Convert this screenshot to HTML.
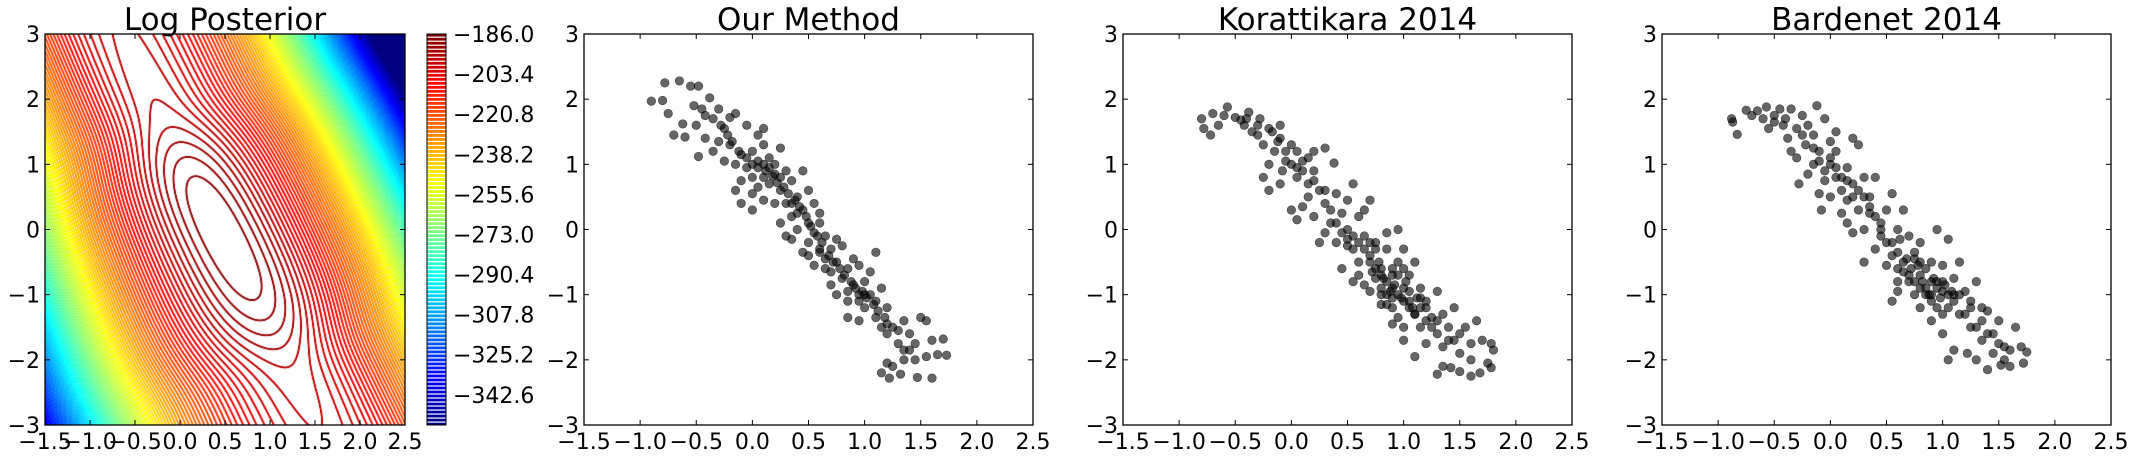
<!DOCTYPE html>
<html><head><meta charset="utf-8">
<style>
html,body{margin:0;padding:0;background:#fff;}
#wrap{position:relative;width:2135px;height:459px;overflow:hidden;background:#fff;}
#contour{position:absolute;left:45px;top:34px;}
svg{position:absolute;left:0;top:0;}
text{font-family:"DejaVu Sans","Liberation Sans",sans-serif;fill:#000;}
</style></head>
<body>
<div id="wrap">
<canvas id="contour" width="360" height="391"></canvas>
<svg id="fig" width="2135" height="459"></svg>
</div>
<script>
// ---- data ----
const xTicks = [-1.5,-1.0,-0.5,0.0,0.5,1.0,1.5,2.0,2.5];
const yTicks = [-3,-2,-1,0,1,2,3];
const cbTicks = [-186.0,-203.4,-220.8,-238.2,-255.6,-273.0,-290.4,-307.8,-325.2,-342.6];
const levelMax = -186.0;
const levelMin = -355.7;
const levelStep = 1.74;
const titles = ["Log Posterior","Our Method","Korattikara 2014","Bardenet 2014"];

const ourPoints = [[-0.9,1.97],[-0.78,2.25],[-0.65,2.28],[-0.55,2.2],[-0.48,2.2],[-0.75,1.78],[-0.8,1.98],[-0.7,1.45],[-0.6,1.42],[-0.62,1.62],[-0.52,1.9],[-0.45,1.85],[-0.38,2.02],[-0.5,1.6],[-0.42,1.4],[-0.48,1.12],[-0.3,1.85],[-0.25,1.55],[-0.2,1.72],[-0.15,1.78],[-0.3,1.35],[-0.2,1.3],[-0.1,1.15],[-0.35,1.2],[-0.25,1.05],[-0.15,1.0],[-0.05,1.1],[0.0,1.2],[0.05,1.45],[0.1,1.55],[-0.05,1.6],[0.1,1.3],[0.15,1.1],[0.2,1.0],[0.25,1.25],[0.3,0.9],[0.05,0.95],[0.0,0.8],[-0.1,0.75],[0.1,0.8],[0.15,0.7],[0.2,0.85],[0.25,0.6],[0.35,0.75],[0.4,0.5],[0.45,0.9],[0.3,0.4],[0.35,0.2],[0.2,0.4],[0.1,0.45],[0.0,0.55],[-0.15,0.6],[0.45,0.3],[0.5,0.1],[0.55,0.4],[0.4,0.0],[0.35,-0.15],[0.5,-0.2],[0.55,-0.05],[0.6,0.1],[0.65,-0.1],[0.6,-0.35],[0.7,-0.3],[0.75,-0.5],[0.65,-0.6],[0.55,-0.55],[0.5,-0.4],[0.45,-0.35],[0.8,-0.25],[0.85,-0.6],[0.9,-0.45],[0.8,-0.75],[0.7,-0.85],[0.75,-1.0],[0.9,-0.85],[0.95,-1.0],[1.0,-0.8],[1.05,-1.0],[0.85,-1.1],[1.0,-1.2],[1.1,-1.1],[1.15,-0.9],[1.2,-1.2],[0.95,-1.4],[1.1,-1.35],[1.05,-0.65],[1.1,-0.35],[1.2,-1.45],[1.25,-1.5],[1.3,-1.55],[1.35,-1.4],[1.4,-1.6],[1.3,-1.75],[1.45,-1.75],[1.5,-1.35],[1.55,-1.4],[1.6,-1.7],[1.7,-1.68],[1.73,-1.93],[1.65,-1.92],[1.55,-1.95],[1.45,-2.0],[1.35,-2.0],[1.25,-2.1],[1.2,-2.05],[1.15,-2.2],[1.22,-2.28],[1.32,-2.22],[1.47,-2.27],[1.6,-2.28],[1.4,-1.85],[1.35,-1.85],[1.15,-1.5],[1.2,-1.6],[0.75,-0.15],[0.3,-0.1],[0.25,0.1],[0.0,0.3],[-0.1,0.4],[0.5,0.6],[0.6,0.25],[0.85,-1.35],[0.95,-0.55],[0.7,-0.65],
[0.0,1.0],[0.05,1.05],[0.1,1.0],[-0.05,0.95],[0.12,0.9],[0.18,0.82],[0.22,0.72],[0.28,0.65],[0.32,0.55],[0.38,0.45],[0.42,0.35],[0.48,0.2],[0.52,0.05],[0.58,-0.1],[0.62,-0.2],[0.68,-0.4],[0.72,-0.5],[0.78,-0.6],[0.82,-0.7],[0.88,-0.8],[0.92,-0.9],[0.98,-0.95],[1.02,-1.05],[1.08,-1.15],[1.12,-1.25],[1.18,-1.35],[-0.12,1.2],[-0.18,1.35],[-0.22,1.45],[-0.28,1.6],[-0.35,1.7],[-0.42,1.75],[0.15,0.95],[0.25,0.8],[0.35,0.4],[0.6,-0.3],[0.85,-0.95],[1.0,-1.0],[0.95,-1.1],[0.05,0.65],[0.4,0.25],[0.65,-0.45]];

const korPoints = [[-0.8,1.7],[-0.78,1.55],[-0.72,1.45],[-0.7,1.78],[-0.65,1.6],[-0.6,1.75],[-0.57,1.88],[-0.5,1.72],[-0.45,1.68],[-0.42,1.6],[-0.38,1.8],[-0.35,1.5],[-0.3,1.45],[-0.28,1.7],[-0.25,1.3],[-0.2,1.55],[-0.17,1.5],[-0.15,1.2],[-0.12,1.35],[-0.1,1.6],[-0.05,1.05],[-0.08,0.9],[0.0,1.0],[0.0,1.3],[0.05,0.8],[0.05,1.2],[0.1,0.9],[-0.2,1.0],[-0.25,0.8],[-0.2,0.6],[-0.1,0.7],[0.15,1.1],[0.2,0.75],[0.2,1.2],[0.25,0.6],[0.3,1.25],[0.15,0.5],[0.1,0.35],[0.0,0.3],[0.05,0.15],[0.2,0.2],[0.3,0.4],[0.35,0.1],[0.38,1.02],[0.4,0.55],[0.45,0.25],[0.3,-0.05],[0.25,-0.2],[0.4,-0.2],[0.5,0.0],[0.55,-0.3],[0.6,0.2],[0.5,0.45],[0.55,0.7],[0.65,-0.1],[0.7,0.45],[0.6,-0.5],[0.7,-0.4],[0.75,-0.2],[0.8,-0.6],[0.85,-0.3],[0.75,-0.75],[0.65,-0.85],[0.55,-0.8],[0.8,-0.9],[0.85,-1.0],[0.9,-0.7],[0.9,-1.2],[0.95,-0.5],[1.0,-0.9],[1.0,-0.3],[1.05,-1.1],[1.05,-0.7],[0.95,-1.35],[0.8,-1.15],[1.1,-0.5],[1.1,-1.3],[1.15,-0.9],[1.2,-1.1],[1.15,-1.5],[1.25,-1.35],[1.3,-0.95],[1.3,-1.6],[1.2,-1.75],[1.35,-1.3],[1.35,-1.8],[1.4,-1.5],[1.45,-1.2],[1.45,-1.7],[1.5,-1.9],[1.55,-1.5],[1.6,-1.75],[1.6,-2.0],[1.65,-1.4],[1.7,-1.7],[1.78,-1.75],[1.8,-1.85],[1.75,-2.05],[1.78,-2.12],[1.68,-2.2],[1.6,-2.25],[1.5,-2.18],[1.42,-2.12],[1.35,-2.1],[1.3,-2.22],[1.1,-1.95],[1.0,-1.7],[1.0,-1.5],[0.9,-1.45],[0.85,-0.05],[0.95,0.0],[0.7,-0.95],[0.6,-0.7],[0.45,-0.6],[0.5,-0.15],[0.65,0.3],[0.92,-0.85],[0.88,-0.95],[0.98,-1.05],[1.02,-0.8],[0.82,-0.75],[0.78,-0.5],[1.08,-1.2],[1.12,-1.05],[0.72,-0.65],
[0.7,-0.5],[0.75,-0.6],[0.8,-0.7],[0.85,-0.8],[0.9,-0.9],[0.95,-1.0],[1.0,-1.1],[1.05,-1.2],[1.1,-1.3],[1.15,-1.2],[0.9,-0.6],[0.95,-0.7],[1.0,-0.6],[0.75,-0.3],[0.65,-0.3],[0.6,-0.2],[0.55,-0.1],[0.5,-0.25],[0.85,-1.15],[0.8,-1.0],[1.2,-1.4],[1.25,-1.5],[1.3,-1.4],[1.4,-1.7],[1.5,-1.6],[1.2,-1.2],[1.15,-1.05],[0.4,0.1],[0.35,0.3],[0.3,0.6],[0.2,0.9],[0.1,1.05],[-0.05,1.2],[-0.1,1.4],[-0.3,1.6],[-0.4,1.7],[0.05,0.95],[0.15,0.7],[0.45,-0.05],[0.7,-0.2],[1.05,-0.95],[0.9,-1.05]];

const barPoints = [[-0.88,1.7],[-0.87,1.65],[-0.83,1.46],[-0.75,1.83],[-0.7,1.75],[-0.65,1.82],[-0.6,1.7],[-0.57,1.88],[-0.55,1.55],[-0.5,1.75],[-0.45,1.85],[-0.42,1.6],[-0.38,1.4],[-0.35,1.85],[-0.3,1.55],[-0.25,1.75],[-0.22,1.3],[-0.2,1.6],[-0.15,1.45],[-0.12,1.9],[-0.1,1.2],[-0.05,1.7],[0.0,1.0],[0.0,1.35],[-0.05,0.9],[-0.15,1.0],[-0.2,0.85],[-0.3,1.1],[-0.28,0.7],[0.05,0.8],[0.05,1.2],[0.1,0.6],[0.15,0.95],[0.2,1.4],[0.25,1.3],[0.15,0.45],[0.2,0.7],[0.0,0.5],[-0.08,0.3],[0.1,0.25],[0.25,0.3],[0.3,0.8],[0.35,0.5],[0.4,0.8],[0.45,0.1],[0.3,0.0],[0.2,-0.05],[0.5,0.3],[0.55,0.55],[0.6,0.0],[0.65,0.3],[0.55,-0.2],[0.4,-0.3],[0.3,-0.5],[0.5,-0.55],[0.6,-0.35],[0.7,-0.1],[0.75,-0.45],[0.8,-0.2],[0.65,-0.65],[0.6,-0.95],[0.55,-1.1],[0.7,-0.8],[0.8,-0.7],[0.85,-0.9],[0.9,-0.5],[0.9,-1.1],[0.95,-0.8],[0.95,0.0],[1.0,-0.95],[1.0,-0.55],[1.05,-1.2],[1.05,-0.15],[1.1,-0.75],[1.1,-1.0],[1.15,-1.3],[1.15,-0.5],[1.2,-0.95],[1.25,-1.2],[1.3,-0.8],[1.25,-1.5],[1.35,-1.4],[1.35,-1.7],[1.4,-1.25],[1.45,-1.6],[1.45,-1.9],[1.5,-1.4],[1.5,-1.75],[1.55,-2.0],[1.6,-1.85],[1.65,-1.5],[1.7,-1.8],[1.75,-1.88],[1.72,-2.05],[1.6,-2.1],[1.52,-2.08],[1.4,-2.15],[1.3,-2.0],[1.22,-1.9],[1.1,-1.85],[1.05,-2.0],[1.0,-1.6],[0.9,-1.4],[0.8,-1.2],[0.75,-1.0],[0.85,-0.6],[0.92,-0.75],[0.98,-1.05],[1.02,-0.85],[0.88,-1.0],[0.82,-0.8],[1.08,-0.95],[0.78,-0.55],[0.72,-0.6],[0.68,-0.45],[0.62,-0.15],[0.45,-0.1],[0.35,0.25],[0.15,0.1],[-0.1,0.55],[0.05,1.5],[-0.35,1.2],
[0.7,-0.7],[0.75,-0.8],[0.8,-0.9],[0.85,-1.0],[0.9,-0.8],[0.95,-0.9],[1.0,-0.8],[1.05,-1.0],[1.1,-1.1],[1.15,-1.0],[1.2,-1.3],[0.95,-1.2],[0.8,-0.5],[0.65,-0.5],[0.6,-0.6],[0.55,-0.4],[0.5,-0.2],[0.45,0.0],[0.4,0.2],[0.35,0.35],[0.3,0.5],[0.25,0.6],[0.2,0.5],[0.1,0.8],[0.05,0.95],[0.0,1.1],[-0.1,1.05],[-0.15,1.25],[-0.25,1.45],[-0.4,1.7],[-0.5,1.65],[1.3,-1.5],[1.4,-1.6],[1.55,-1.8],[1.25,-1.1],[1.0,-1.3],[0.9,-1.0],[0.75,-0.35],[0.15,0.75],[-0.05,0.75],[1.35,-1.2],[0.6,-0.8]];

// ---- layout ----
const NS = "http://www.w3.org/2000/svg";
const svg = document.getElementById('fig');
const TOP = 34, BOT = 425;
const panels = [
  {left:45, width:360, name:'log-posterior'},
  {left:584, width:449, name:'our-method', pts:ourPoints},
  {left:1123, width:449, name:'korattikara-2014', pts:korPoints},
  {left:1662, width:449, name:'bardenet-2014', pts:barPoints}
];
function el(tag, attrs, parent){
  const e = document.createElementNS(NS, tag);
  for (const k in attrs) e.setAttribute(k, attrs[k]);
  (parent||svg).appendChild(e);
  return e;
}
function xScale(p, v){ return p.left + (v - xTicks[0])/(xTicks[xTicks.length-1]-xTicks[0])*p.width; }
function yScale(v){ return TOP + (yTicks[yTicks.length-1]-v)/(yTicks[yTicks.length-1]-yTicks[0])*(BOT-TOP); }
function fmt(v, d){ const s = Math.abs(v).toFixed(d); return (v<0?'\u2212':'')+s; }

function jet(t){
  t=Math.max(0,Math.min(1,t));
  const r=Math.max(0,Math.min(1,1.5-Math.abs(4*t-3)));
  const g=Math.max(0,Math.min(1,1.5-Math.abs(4*t-2)));
  const b=Math.max(0,Math.min(1,1.5-Math.abs(4*t-1)));
  return [r*255,g*255,b*255];
}

// ---- contour field ----
function logPost(x,y){
  const dx=x-0.55, dy=y+0.15;
  const u=dx*0.465-dy*0.885, v=dx*0.885+dy*0.465;
  const xc=0.425-0.305*y, h=1.71-0.04*y;
  const w=(x-xc)/h*1.7;
  const qw=20*w*w;
  const qu0=1.0*u*u+0.5*u*u*u*u;
  const qu=8*Math.tanh(qu0/8);
  const qv=10*v*v/(1+v*v);
  return levelMax-(qw+qu+qv);
}
(function(){
  const cv=document.getElementById('contour');
  const ctx=cv.getContext('2d');
  const W=360,H=391;
  const img=ctx.createImageData(W,H);
  const F=new Float32Array((W+2)*(H+2));
  for(let j=-1;j<=H;j++)for(let i=-1;i<=W;i++){
    const x=xTicks[0]+(i+0.5)/W*4, y=3-(j+0.5)/H*6;
    F[(j+1)*(W+2)+(i+1)]=logPost(x,y);
  }
  for(let j=0;j<H;j++)for(let i=0;i<W;i++){
    const k=(j+1)*(W+2)+(i+1);
    const f=F[k];
    const gx=(F[k+1]-F[k-1])/2, gy=(F[k+W+2]-F[k-W-2])/2;
    const g=Math.sqrt(gx*gx+gy*gy)+1e-6;
    const s=(levelMax-f)/levelStep;
    const n=Math.round(s);
    const lev=levelMax-n*levelStep;
    const pd=Math.abs(s-n)*levelStep/g;
    let a=Math.max(0,Math.min(1,(1.3-pd)/0.7));
    if(n<1) a=0;
    const c=jet((lev-levelMin)/(levelMax-levelMin));
    const o=(j*W+i)*4;
    img.data[o]=255+(c[0]-255)*a;
    img.data[o+1]=255+(c[1]-255)*a;
    img.data[o+2]=255+(c[2]-255)*a;
    img.data[o+3]=255;
  }
  ctx.putImageData(img,0,0);
})();

// ---- colorbar ----
const cbL=427, cbW=19;
const cb=el('g',{});


function cbY(v){ return TOP+(levelMax-v)/(levelMax-levelMin)*(BOT-TOP); }
for(let L=levelMax; L>=levelMin; L-=levelStep){
  const c=jet((L-levelMin)/(levelMax-levelMin));
  const r=el('rect',{x:cbL,y:cbY(L)-0.2,width:cbW,height:2.8,fill:`rgb(${c[0]|0},${c[1]|0},${c[2]|0})`},cb);
  
  
}
el('rect',{x:cbL,y:TOP,width:cbW,height:BOT-TOP,fill:'none',stroke:'#000','stroke-width':1},cb);
cbTicks.forEach(v=>{
  const t=el('text',{x:cbL+cbW+7,y:cbY(v)+8,'font-size':22},cb);
  
  
  t.textContent=fmt(v,1);
});

// ---- axes ----
panels.forEach((p,pi)=>{
  const g=el('g',{});
  
  
  if(p.pts){
    p.pts.forEach(pt=>{
      const c=el('circle',{cx:xScale(p,pt[0]),cy:yScale(pt[1]),r:4.3,fill:'#000','fill-opacity':0.6,stroke:'#000','stroke-opacity':0.6,'stroke-width':0.6},g);
      
      
    });
  }
  const fr=el('rect',{x:p.left,y:TOP,width:p.width,height:BOT-TOP,fill:'none',stroke:'#000','stroke-width':1.3},g);
  
  
  xTicks.forEach(v=>{
    const x=xScale(p,v);
    el('line',{x1:x,y1:BOT,x2:x,y2:BOT-5,stroke:'#000','stroke-width':1},g);
    el('line',{x1:x,y1:TOP,x2:x,y2:TOP+5,stroke:'#000','stroke-width':1},g);
    const t=el('text',{x:x,y:449,'font-size':22,'text-anchor':'middle'},g);
    
    
    t.textContent=fmt(v,1);
  });
  yTicks.forEach(v=>{
    const y=yScale(v);
    el('line',{x1:p.left,y1:y,x2:p.left+5,y2:y,stroke:'#000','stroke-width':1},g);
    el('line',{x1:p.left+p.width,y1:y,x2:p.left+p.width-5,y2:y,stroke:'#000','stroke-width':1},g);
    const t=el('text',{x:p.left-5,y:y+8,'font-size':22,'text-anchor':'end'},g);
    
    
    t.textContent=fmt(v,0);
  });
  const tt=el('text',{x:p.left+p.width/2,y:30,'font-size':31,'text-anchor':'middle'},g);
  
  
  tt.textContent=titles[pi];
});
</script>
</body></html>
